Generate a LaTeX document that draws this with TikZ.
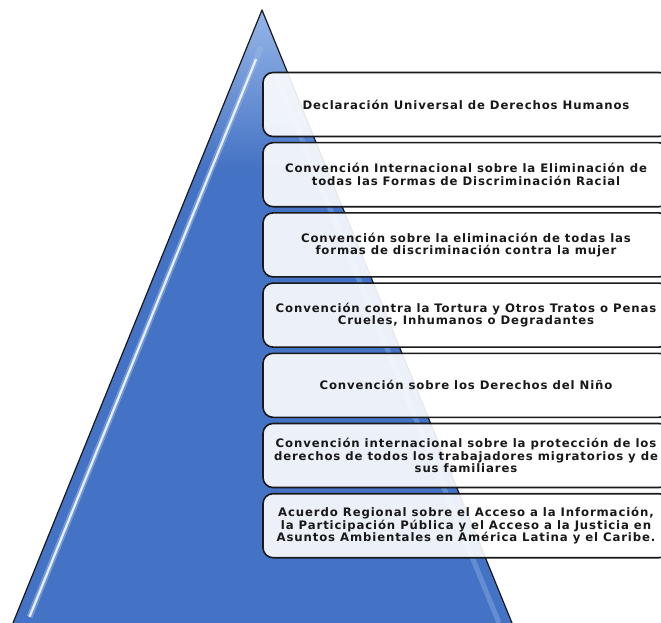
\documentclass[tikz,border=0pt]{standalone}
\usepackage{fontspec}
\setmainfont{DejaVu Sans}
\newfontfamily\letra[LetterSpace=7.5]{DejaVu Sans}
\usetikzlibrary{calc}
\definecolor{azul}{RGB}{68,114,196}
\definecolor{azulclaro}{RGB}{150,182,232}
\definecolor{borde}{RGB}{25,25,25}
\tikzset{
  caja/.style={draw=borde,line width=1.6pt,rounded corners=10pt,
    fill=white,fill opacity=.9,text opacity=1,text=borde,
    minimum width=406pt,minimum height=64pt,align=center,
    inner sep=0pt,font=\letra\bfseries\fontsize{11.7}{12.6}\selectfont}
}

\begin{document}
\begin{tikzpicture}[x=1pt,y=-1pt]
\useasboundingbox (0,0) rectangle (661,623);
\clip (0,0) rectangle (661,623);
\coordinate (P) at (262,10);
\coordinate (L) at (13,623);
\coordinate (R) at (512,623);
% piramide
\fill[azul] (P) -- (L) -- (R) -- cycle;
\begin{scope}
\clip (P) -- (L) -- (R) -- cycle;
\shade[top color=azulclaro,bottom color=azul] (0,10) rectangle (661,170);
\draw[azulclaro,line width=6pt,opacity=.55]
  ($(P)!.06!(L)+(14,0)$) -- ($(P)!.99!(L)+(14,0)$);
\draw[white,line width=2.2pt,opacity=.85]
  ($(P)!.08!(L)+(14,0)$) -- ($(P)!.99!(L)+(14,0)$);
\draw[azulclaro,line width=5pt,opacity=.4]
  ($(P)!.1!(R)+(-13,0)$) -- ($(P)!1!(R)+(-13,0)$);
\end{scope}
\draw[borde,line width=1.2pt,line join=round] (L) -- (P) -- (R);
% tratados
\node[caja] (dudh) at (466,104.5)
  {Declaración Universal de Derechos Humanos};
\node[caja] (cerd) at (466,174.7)
  {Convención Internacional sobre la Eliminación de\\
   todas las Formas de Discriminación Racial};
\node[caja] (cedaw) at (466,244.9)
  {Convención sobre la eliminación de todas las\\
   formas de discriminación contra la mujer};
\node[caja] (cat) at (466,315.1)
  {Convención contra la Tortura y Otros Tratos o Penas\\
   Crueles, Inhumanos o Degradantes};
\node[caja] (cdn) at (466,385.3)
  {Convención sobre los Derechos del Niño};
\node[caja] (cmw) at (466,455.5)
  {Convención internacional sobre la protección de los\\
   derechos de todos los trabajadores migratorios y de\\
   sus familiares};
\node[caja] (escazu) at (466,525.7)
  {Acuerdo Regional sobre el Acceso a la Información,\\
   la Participación Pública y el Acceso a la Justicia en\\
   Asuntos Ambientales en América Latina y el Caribe.};
\end{tikzpicture}
\end{document}
